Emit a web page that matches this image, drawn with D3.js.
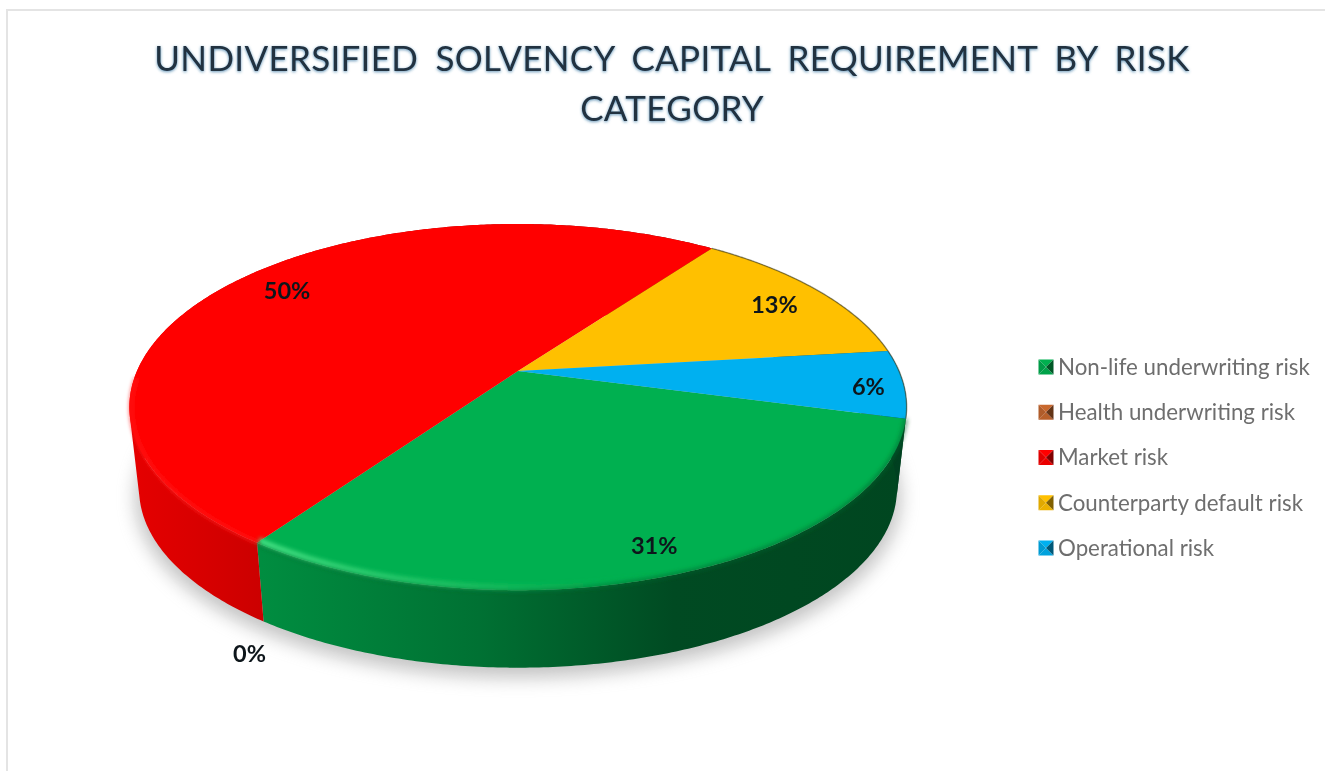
<!DOCTYPE html>
<html>
<head>
<meta charset="utf-8">
<script src="https://cdn.jsdelivr.net/npm/d3@7"></script>
<style>
  html, body { margin: 0; padding: 0; background: #fff; }
  svg { display: block; }
  text { font-family: Lato, "Open Sans", sans-serif; }
</style>
</head>
<body>
<svg id="chart" width="1325" height="771"></svg>
<script>
// Chart values
var titleLines = ['UNDIVERSIFIED SOLVENCY CAPITAL REQUIREMENT BY RISK', 'CATEGORY'];
var categories = ['Non-life underwriting risk', 'Health underwriting risk', 'Market risk', 'Counterparty default risk', 'Operational risk'];
var shares = [30.6, 0, 50.3, 13.1, 6];

// Styles
var sliceColors = ['#00b050', '#c8682f', '#ff0000', '#ffc000', '#00b0f0'];
var sideColors = ['#00b050', '#c8682f', '#ff0000', '#ffc000', '#00a050'];
var labelRadius = [0.875, 1.024, 0.815, 0.845, 0.91];
var labelDrop = [2, 106, -4, 3, 4];
var shadeStops = [0, 0.17, 0.45, 0.7, 1];
var shadeDark = [0.1, 0.2, 0.36, 0.58, 0.6];

var svg = d3.select('#chart');
var defs = svg.append('defs');

// Pie geometry: a flat disk seen in perspective, apex sits above the ellipse centre
var apexX = 518, apexY = 371;
var scaleU = 381, scaleV = 176, persp = 0.197;
var depth = 83, bottomScale = 0.975;
var startAngle = 104.9 * Math.PI / 180;

function project(angle, r, scale, drop) {
  var u = r * Math.sin(angle), v = r * Math.cos(angle);
  var w = 1 + persp * v;
  return [apexX + scale * scaleU * u / w, apexY + drop - scale * scaleV * v / w];
}

function rim(a0, a1, scale, drop) {
  var n = Math.max(2, Math.ceil((a1 - a0) / 0.01));
  return d3.range(n + 1).map(function(i) {
    return project(a0 + (a1 - a0) * i / n, 1, scale, drop);
  });
}

var line = d3.line();
var color = d3.scaleOrdinal().domain(categories).range(sliceColors);
var pie = d3.pie().sort(null)
  .startAngle(startAngle)
  .endAngle(startAngle + 2 * Math.PI);
var slices = pie(shares);

// Side wall as small quads, all wound the same way so the silhouette fills solid
function band(a0, a1) {
  var top = rim(a0, a1, 1, 0);
  var bottom = rim(a0, a1, bottomScale, depth);
  var d = '';
  for (var i = 0; i < top.length - 1; i++) {
    var quad = [top[i], top[i + 1], bottom[i + 1], bottom[i]];
    if (d3.polygonArea(quad) < 0) quad.reverse();
    d += line(quad) + 'Z';
  }
  return d;
}

// Filters
function blur(id, dev) {
  defs.append('filter').attr('id', id)
    .attr('x', '-20%').attr('y', '-20%').attr('width', '140%').attr('height', '140%')
    .append('feGaussianBlur').attr('stdDeviation', dev);
}
blur('shadowBlur', 9);
blur('rimBlur', 2);
blur('edgeBlur', 0.7);

var titleGlow = defs.append('filter').attr('id', 'titleGlow')
  .attr('x', '-5%').attr('y', '-30%').attr('width', '110%').attr('height', '160%');
titleGlow.append('feDropShadow').attr('dx', 0).attr('dy', 1)
  .attr('stdDeviation', 1.5).attr('flood-color', '#2f6f9f').attr('flood-opacity', 0.75);

var softText = defs.append('filter').attr('id', 'softText');
softText.append('feGaussianBlur').attr('stdDeviation', 0.35);

// Frame
svg.append('path')
  .attr('d', line([[7, 771], [7, 10], [1325, 10]]))
  .attr('fill', 'none')
  .attr('stroke', '#e4e4e4')
  .attr('stroke-width', 2);

// Title
svg.selectAll('text.title')
  .data(titleLines)
  .enter().append('text')
  .attr('class', 'title')
  .attr('x', 672)
  .attr('y', function(d, i) { return 71 + i * 50; })
  .attr('text-anchor', 'middle')
  .attr('font-size', 35)
  .attr('letter-spacing', 0.3)
  .attr('word-spacing', 8)
  .attr('fill', '#20303f')
  .attr('filter', 'url(#titleGlow)')
  .text(function(d) { return d; });

// Ground shadow
svg.append('path')
  .attr('d', line(rim(0, 2 * Math.PI, bottomScale * 1.01, depth + 8)) + 'Z')
  .attr('fill', '#8a8a8a')
  .attr('opacity', 0.5)
  .attr('filter', 'url(#shadowBlur)');

// Side gradients run left to right across the whole pie
var sideLeft = apexX - 390, sideRight = apexX + 390;
slices.forEach(function(s, i) {
  var g = defs.append('linearGradient').attr('id', 'side' + i)
    .attr('gradientUnits', 'userSpaceOnUse')
    .attr('x1', sideLeft).attr('x2', sideRight).attr('y1', 0).attr('y2', 0);
  shadeStops.forEach(function(o, k) {
    g.append('stop').attr('offset', o)
      .attr('stop-color', d3.interpolateRgb(sideColors[i], '#000')(shadeDark[k]));
  });
});

// Sides
svg.selectAll('path.side')
  .data(slices)
  .enter().append('path')
  .attr('class', 'side')
  .attr('fill', function(d, i) { return 'url(#side' + i + ')'; })
  .attr('d', function(d) {
    if (d.endAngle - d.startAngle < 1e-6) return null;
    return band(d.startAngle, d.endAngle);
  });

// Top face
svg.selectAll('path.top')
  .data(slices)
  .enter().append('path')
  .attr('class', 'top')
  .attr('fill', function(d, i) { return sliceColors[i]; })
  .attr('d', function(d) {
    if (d.endAngle - d.startAngle < 1e-6) return null;
    return line([[apexX, apexY]].concat(rim(d.startAngle, d.endAngle, 1, 0))) + 'Z';
  });

// Bevel highlight along the front rim, fades out to the right
var glint = defs.append('linearGradient').attr('id', 'glint')
  .attr('gradientUnits', 'userSpaceOnUse')
  .attr('x1', 262).attr('x2', 660).attr('y1', 0).attr('y2', 0);
glint.append('stop').attr('offset', 0).attr('stop-color', '#4be88a').attr('stop-opacity', 1);
glint.append('stop').attr('offset', 0.6).attr('stop-color', '#22c868').attr('stop-opacity', 0.7);
glint.append('stop').attr('offset', 1).attr('stop-color', '#00b050').attr('stop-opacity', 0);

// Soft blend of the green top into its dark wall
svg.append('path')
  .attr('d', line(rim(slices[0].startAngle, slices[0].endAngle, 1, 0)))
  .attr('fill', 'none')
  .attr('stroke', '#00642c')
  .attr('stroke-opacity', 0.6)
  .attr('stroke-width', 4)
  .attr('filter', 'url(#rimBlur)');

svg.append('path')
  .attr('d', line(rim(slices[0].startAngle, slices[0].endAngle, 0.992, -1)))
  .attr('fill', 'none')
  .attr('stroke', 'url(#glint)')
  .attr('stroke-width', 5)
  .attr('filter', 'url(#rimBlur)');

// Same blend on the red front edge, only as far round as the wall shows
svg.append('path')
  .attr('d', line(rim(slices[2].startAngle, 268 * Math.PI / 180, 0.995, 1)))
  .attr('fill', 'none')
  .attr('stroke', '#ff1a1a')
  .attr('stroke-width', 3)
  .attr('filter', 'url(#rimBlur)');

// Thin dark edge on the back right of the pie
svg.append('path')
  .attr('d', line(rim(slices[3].startAngle, slices[4].endAngle, 1, 0)))
  .attr('fill', 'none')
  .attr('stroke', '#3b3b20')
  .attr('stroke-opacity', 0.55)
  .attr('stroke-width', 1.4)
  .attr('filter', 'url(#edgeBlur)');

// Data labels, placed along each slice's bisector
svg.selectAll('text.label')
  .data(slices)
  .enter().append('text')
  .attr('class', 'label')
  .attr('transform', function(d, i) {
    var p = project((d.startAngle + d.endAngle) / 2, labelRadius[i], 1, labelDrop[i]);
    return 'translate(' + p[0] + ',' + p[1] + ')';
  })
  .attr('dy', '0.35em')
  .attr('text-anchor', 'middle')
  .attr('font-size', 23.5)
  .attr('font-weight', 700)
  .attr('fill', '#10151a')
  .attr('filter', 'url(#softText)')
  .text(function(d) { return Math.round(d.value) + '%'; });

// Legend
var legendY = d3.scalePoint().domain(categories).range([367, 548]);
var legend = svg.selectAll('g.legend')
  .data(categories)
  .enter().append('g')
  .attr('class', 'legend')
  .attr('transform', function(d) { return 'translate(1046,' + legendY(d) + ')'; });

var box = 7.5;
var facets = [
  { pts: [[-box, -box], [box, -box], [0, 0]], dark: 0 },
  { pts: [[-box, box], [box, box], [0, 0]], dark: 0.08 },
  { pts: [[-box, -box], [-box, box], [0, 0]], dark: 0.12 },
  { pts: [[box, -box], [box, box], [0, 0]], dark: 0.5 }
];
facets.forEach(function(f) {
  legend.append('path')
    .attr('d', line(f.pts) + 'Z')
    .attr('fill', function(d) { return d3.interpolateRgb(color(d), '#000')(f.dark); })
    .attr('filter', 'url(#softText)');
});

legend.append('text')
  .attr('x', 12)
  .attr('dy', '0.35em')
  .attr('font-size', 22.3)
  .attr('fill', '#6e6e6e')
  .attr('filter', 'url(#softText)')
  .text(function(d) { return d; });
</script>
</body>
</html>
